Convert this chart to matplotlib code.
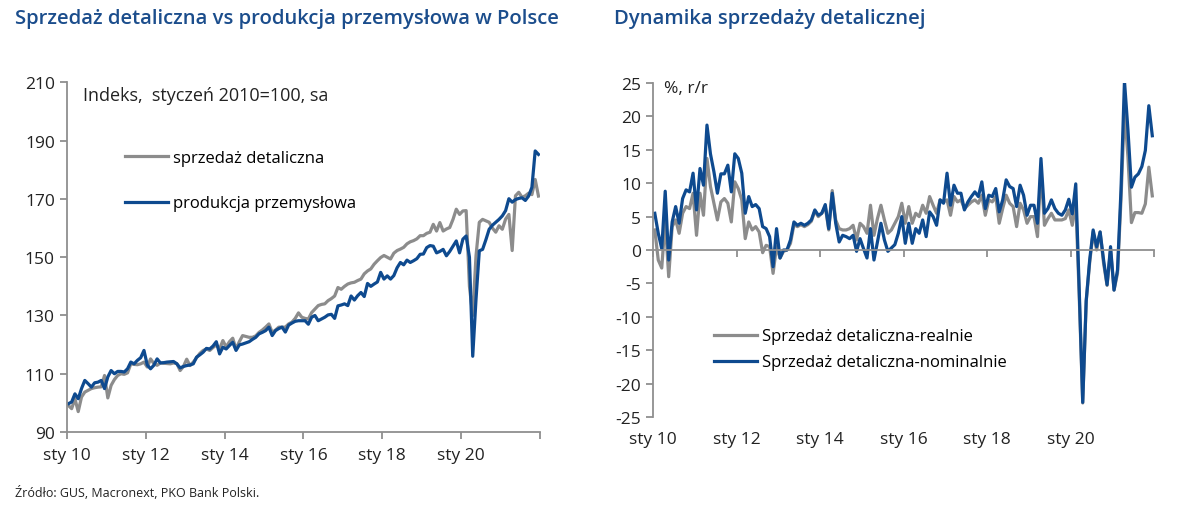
import matplotlib

matplotlib.use("Agg")

import matplotlib.pyplot as plt
import numpy as np

plt.rcParams["font.family"] = ["Open Sans", "DejaVu Sans"]
plt.rcParams["axes.unicode_minus"] = False

BLUE = "#0e4a8f"
GREY = "#8c8c8c"
AXIS = "#8f8f8f"
TEXT = "#222222"
TITLE = "#1b4d8c"

# monthly data, Jan 2010 - Dec 2021
retail_index = [
    99.1, 98.0, 101.4, 97.0, 102.0, 103.7, 104.3, 104.9, 105.2, 105.4, 105.5, 109.4,
    101.7, 106.0, 108.0, 109.4, 110.0, 109.8, 110.3, 113.4, 113.2, 113.1, 113.4, 114.0,
    112.3, 115.1, 113.5, 112.9, 113.7, 113.6, 113.5, 113.4, 113.7, 113.5, 111.1, 112.5,
    115.0, 112.8, 114.0, 115.5, 117.0, 118.0, 118.5, 118.0, 119.0, 119.9, 118.5, 121.4,
    119.2, 121.0, 122.2, 118.5, 121.0, 123.1, 122.8, 122.5, 122.5, 123.0, 124.2, 125.0,
    126.0, 127.1, 124.2, 125.0, 126.0, 126.0, 126.0, 127.1, 127.7, 129.0, 130.9, 129.4,
    129.0, 128.8, 131.0, 132.2, 133.4, 133.8, 134.0, 135.1, 135.8, 136.7, 139.6, 139.0,
    140.0, 140.8, 141.2, 141.4, 142.0, 142.5, 144.3, 145.3, 146.0, 147.6, 148.8, 149.9,
    150.6, 150.0, 149.4, 151.4, 152.3, 152.8, 153.4, 154.6, 155.3, 155.7, 156.3, 157.4,
    157.4, 158.2, 158.6, 161.3, 159.0, 161.9, 159.0, 159.7, 160.2, 163.0, 166.5, 164.7,
    165.9, 166.0, 140.0, 130.0, 150.5, 162.0, 163.0, 162.5, 162.0, 160.0, 158.6, 160.8,
    159.6, 163.1, 164.7, 152.3, 171.1, 172.3, 170.6, 171.1, 172.0, 171.5, 176.7, 171.0,
]
production_index = [
    99.7, 100.3, 103.1, 101.4, 104.9, 107.7, 106.6, 105.4, 106.9, 107.1, 107.7, 104.9,
    108.9, 111.1, 110.0, 110.8, 110.8, 110.6, 111.7, 114.0, 113.4, 114.6, 115.5, 118.0,
    113.0, 111.7, 112.9, 115.1, 113.7, 113.8, 114.0, 114.1, 114.2, 113.4, 112.0, 112.5,
    112.8, 113.0, 113.4, 115.7, 116.5, 117.4, 118.7, 118.5, 119.5, 121.0, 116.8, 119.1,
    118.5, 119.7, 120.8, 118.0, 119.9, 120.2, 120.6, 121.0, 121.8, 122.5, 123.7, 124.2,
    124.8, 126.0, 123.1, 124.8, 125.5, 126.0, 124.3, 126.7, 127.4, 128.0, 128.2, 128.2,
    128.2, 127.0, 129.4, 130.0, 128.2, 128.8, 129.4, 130.2, 130.4, 129.0, 133.3, 133.6,
    134.0, 133.4, 136.7, 135.3, 136.8, 137.9, 136.5, 141.0, 140.0, 140.8, 141.5, 144.8,
    142.5, 143.6, 142.5, 143.7, 146.4, 148.2, 147.4, 149.0, 148.2, 148.8, 149.5, 151.0,
    151.1, 153.3, 154.0, 153.8, 151.5, 152.0, 152.7, 150.5, 152.0, 153.8, 155.6, 151.5,
    156.2, 157.3, 150.0, 116.0, 135.6, 152.2, 152.7, 156.0, 159.6, 161.0, 162.0, 163.0,
    164.2, 166.0, 170.1, 168.9, 169.8, 170.2, 170.4, 169.5, 171.0, 174.0, 186.5, 185.3,
]
retail_real_yoy = [
    3.0, -1.5, -2.7, 4.5, -4.0, 3.5, 4.5, 2.5, 5.5, 6.5, 6.2, 8.5,
    2.2, 8.5, 5.2, 13.7, 9.5, 7.0, 4.5, 7.2, 7.7, 7.0, 4.2, 10.2,
    9.2, 7.5, 1.7, 4.2, 3.0, 3.5, 2.7, -0.4, 0.7, 0.5, -3.5, 0.5,
    -1.2, -0.2, 0.0, 1.0, 3.8, 3.5, 3.8, 3.5, 3.8, 4.3, 5.8, 5.0,
    5.5, 6.5, 3.0, 8.9, 4.5, 3.2, 3.0, 3.0, 3.2, 3.7, 1.5, 4.0,
    3.5, 2.5, 6.7, 2.2, 4.7, 6.7, 4.5, 2.5, 3.0, 4.0, 5.0, 7.0,
    4.0, 6.5, 4.0, 5.5, 5.0, 6.7, 5.5, 8.0, 6.7, 5.5, 7.5, 7.2,
    7.5, 5.2, 8.0, 7.2, 7.5, 6.2, 6.7, 7.2, 7.5, 7.0, 8.2, 5.2,
    7.5, 7.2, 8.0, 4.0, 6.2, 8.2, 7.0, 6.5, 3.5, 7.0, 6.0, 4.0,
    5.0, 5.0, 2.0, 12.0, 3.7, 4.7, 5.5, 4.5, 4.5, 4.5, 4.7, 6.0,
    3.7, 7.3, -7.0, -22.9, -7.7, -1.9, 2.7, 0.0, 2.7, -2.0, -5.3, 0.0,
    -6.0, -3.5, 7.5, 21.1, 13.9, 4.1, 5.6, 5.6, 5.5, 6.9, 12.4, 8.1,
]
retail_nominal_yoy = [
    5.5, 2.5, 0.2, 8.8, -1.5, 4.2, 6.5, 4.0, 7.7, 9.0, 8.7, 11.5,
    6.0, 12.2, 9.7, 18.7, 14.4, 11.7, 8.5, 11.4, 11.4, 12.7, 8.7, 14.4,
    13.7, 11.5, 5.5, 8.0, 6.5, 6.8, 6.2, 3.5, 3.2, 2.0, -2.5, 3.2,
    -1.2, 0.0, 0.0, 1.5, 4.2, 3.7, 4.0, 3.7, 4.0, 4.5, 6.0, 5.2,
    5.5, 6.8, 3.2, 8.5, 4.0, 1.2, 2.2, 2.0, 1.7, 2.2, -0.2, 1.7,
    0.2, -1.2, 3.2, -1.5, 1.2, 4.0, 1.5, -0.2, 0.3, 0.8, 2.5, 5.0,
    1.0, 4.0, 1.0, 3.2, 2.5, 4.5, 2.0, 5.7, 5.0, 3.7, 7.5, 7.0,
    11.5, 6.7, 9.7, 8.5, 8.5, 6.0, 7.2, 8.0, 8.7, 8.0, 10.2, 6.2,
    8.2, 8.0, 9.2, 5.7, 7.5, 10.5, 9.5, 9.2, 6.5, 9.7, 8.2, 5.2,
    6.7, 6.7, 4.0, 13.7, 5.5, 6.2, 7.5, 6.2, 5.5, 5.2, 6.0, 7.6,
    5.4, 9.9, -6.0, -22.8, -7.6, -1.5, 3.0, 0.5, 2.7, -1.5, -5.2, 0.5,
    -6.0, -3.0, 9.0, 25.3, 18.0, 9.4, 10.9, 11.4, 12.5, 14.9, 21.6, 17.1,
]

x_tick_pos = [0, 24, 48, 72, 96, 120, 144]
x_tick_labels = ["sty 10", "sty 12", "sty 14", "sty 16", "sty 18", "sty 20", ""]
left_yticks = [90, 110, 130, 150, 170, 190, 210]
right_yticks = [25, 20, 15, 10, 5, 0, -5, -10, -15, -20, -25]

months = np.arange(len(retail_index)) + 0.5


def style_axes(ax):
    for side in ["top", "right"]:
        ax.spines[side].set_visible(False)
    for side in ["left", "bottom"]:
        ax.spines[side].set_color(AXIS)
        ax.spines[side].set_linewidth(1.3)
    ax.tick_params(colors=AXIS, labelcolor=TEXT, labelsize=12.5, length=5, width=1.3)
    ax.set_xlim(0, 144)
    ax.set_xticks(x_tick_pos)


fig = plt.figure(figsize=(12, 5.06), dpi=100)

# left panel
ax1 = fig.add_axes([0.0556, 0.1443, 0.3945, 0.6907])
style_axes(ax1)
ax1.plot(months, retail_index, color=GREY, lw=2.3, label="sprzedaż detaliczna")
ax1.plot(months, production_index, color=BLUE, lw=2.3, label="produkcja przemysłowa")
ax1.set_ylim(90, 210)
ax1.set_yticks(left_yticks)
ax1.set_xticklabels(x_tick_labels)
ax1.tick_params(axis="x", pad=6)
ax1.text(0.035, 0.965, "Indeks,  styczeń 2010=100, sa", transform=ax1.transAxes,
         fontsize=13, color=TEXT, va="center", ha="left")
ax1.legend(loc="upper left", bbox_to_anchor=(0.105, 0.83), frameon=False, fontsize=12,
           handlelength=2.6, handletextpad=0.3, labelspacing=1.75, borderpad=0)

# right panel
ax2 = fig.add_axes([0.5442, 0.1739, 0.4175, 0.6601])
style_axes(ax2)
ax2.plot(months, retail_real_yoy, color=GREY, lw=2.3, label="Sprzedaż detaliczna-realnie")
ax2.plot(months, retail_nominal_yoy, color=BLUE, lw=2.3, label="Sprzedaż detaliczna-nominalnie")
ax2.set_ylim(-25, 25)
ax2.set_yticks(right_yticks)
ax2.spines["bottom"].set_position(("data", 0))
ax2.set_xticklabels([])
for pos, lab in zip(x_tick_pos, x_tick_labels):
    ax2.text(pos, -0.066, lab, transform=ax2.get_xaxis_transform(), ha="center", va="center",
             fontsize=12.5, color=TEXT)
ax2.text(0.022, 0.985, "%, r/r", transform=ax2.transAxes, fontsize=12.5, color=TEXT,
         va="center", ha="left")
ax2.legend(loc="upper left", bbox_to_anchor=(0.105, 0.29), frameon=False, fontsize=12,
           handlelength=2.6, handletextpad=0.3, labelspacing=0.6, borderpad=0)

fig.text(0.0125, 0.962, "Sprzedaż detaliczna vs produkcja przemysłowa w Polsce", fontsize=14.6,
         color=TITLE, fontweight="semibold", va="center", ha="left")
fig.text(0.512, 0.962, "Dynamika sprzedaży detalicznej", fontsize=14.6,
         color=TITLE, fontweight="semibold", va="center", ha="left")
fig.text(0.0125, 0.026, "Źródło: GUS, Macronext, PKO Bank Polski.", fontsize=9,
         color=TEXT, va="center", ha="left")

fig.savefig("out.png", dpi=100, facecolor="white")
